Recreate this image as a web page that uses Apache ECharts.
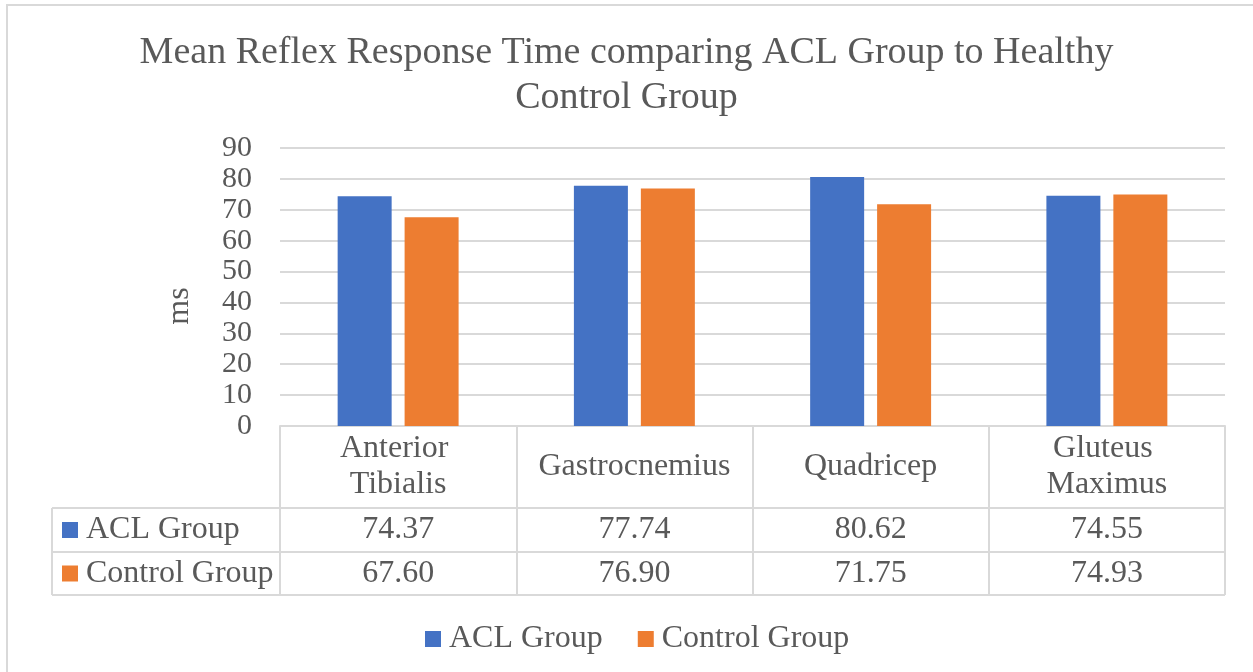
<!DOCTYPE html>
<html>
<head>
<meta charset="utf-8">
<title>Mean Reflex Response Time</title>
<script src="https://cdn.jsdelivr.net/npm/echarts@6/dist/echarts.min.js"></script>
<style>
  html, body { margin: 0; padding: 0; background: #fff; }
  #chart { width: 1253px; height: 672px; }
</style>
</head>
<body>
<div id="chart"></div>
<script>
  // data
  var muscles = ['Anterior Tibialis', 'Gastrocnemius', 'Quadricep', 'Gluteus Maximus'];
  var aclGroup = [74.37, 77.74, 80.62, 74.55];
  var controlGroup = [67.60, 76.90, 71.75, 74.93];
  var seriesNames = ['ACL Group', 'Control Group'];
  var colors = ['#4472C4', '#ED7D31'];

  var font = 'Liberation Serif, Times New Roman, serif';
  var txt = '#595959';
  var lineCol = '#d9d9d9';
  var fs = 32;

  var chart = echarts.init(document.getElementById('chart'));

  var option = {
    animation: false,
    title: {
      text: 'Mean Reflex Response Time comparing ACL Group to Healthy\nControl Group',
      left: 'center',
      top: 31,
      padding: 0,
      textStyle: { fontFamily: font, fontSize: 38, fontWeight: 'normal', color: txt, lineHeight: 45 }
    },
    legend: {
      bottom: 17,
      left: 425,
      padding: 0,
      icon: 'rect',
      itemWidth: 16,
      itemHeight: 16,
      itemGap: 35,
      textStyle: { fontFamily: font, fontSize: fs, color: txt, padding: [0, 0, 0, 3] },
      data: seriesNames
    },
    grid: { left: 280, right: 28, top: 148, bottom: 246 },
    xAxis: {
      type: 'category',
      data: muscles,
      axisLine: { lineStyle: { color: lineCol, width: 2 } },
      axisTick: { show: true, length: 169, lineStyle: { color: lineCol, width: 2 } },
      axisLabel: {
        interval: 0,
        margin: 41,
        verticalAlign: 'middle',
        width: 196,
        overflow: 'break',
        fontFamily: font, fontSize: fs, color: txt, lineHeight: 36
      }
    },
    yAxis: {
      type: 'value',
      min: 0, max: 90, interval: 10,
      name: 'ms',
      nameLocation: 'middle',
      nameGap: 84,
      nameTextStyle: { fontFamily: font, fontSize: fs, color: txt, padding: [0, 38, 0, 0] },
      axisLine: { show: false },
      axisTick: { show: false },
      axisLabel: { margin: 28, fontFamily: font, fontSize: 30, color: txt },
      splitLine: { lineStyle: { color: lineCol, width: 2 } }
    },
    series: [
      { name: seriesNames[0], type: 'bar', data: aclGroup, barWidth: 54, barGap: '24%', itemStyle: { color: colors[0] } },
      { name: seriesNames[1], type: 'bar', data: controlGroup, barWidth: 54, itemStyle: { color: colors[1] } }
    ]
  };
  chart.setOption(option);

  // data table under the axis
  var tableLeft = 52, tableRight = 1225;
  var rowTops = [508, 552, 595];
  var els = [];
  // outer frame
  els.push({ type: 'rect', shape: { x: 7, y: 5, width: 1270, height: 690 }, style: { fill: null, stroke: lineCol, lineWidth: 2 }, silent: true });
  rowTops.forEach(function (y) {
    els.push({ type: 'line', shape: { x1: tableLeft, y1: y, x2: tableRight, y2: y }, style: { stroke: lineCol, lineWidth: 2 } });
  });
  els.push({ type: 'line', shape: { x1: tableLeft, y1: rowTops[0], x2: tableLeft, y2: rowTops[2] }, style: { stroke: lineCol, lineWidth: 2 } });
  [aclGroup, controlGroup].forEach(function (vals, r) {
    var cy = (rowTops[r] + rowTops[r + 1]) / 2;
    els.push({ type: 'rect', shape: { x: 62, y: cy - 8, width: 16, height: 16 }, style: { fill: colors[r] } });
    els.push({ type: 'text', x: 86, y: cy, style: { text: seriesNames[r], fontFamily: font, fontSize: fs, fill: txt, verticalAlign: 'middle' } });
    vals.forEach(function (v, i) {
      var cx = chart.convertToPixel({ xAxisIndex: 0 }, i);
      els.push({ type: 'text', x: cx, y: cy, style: { text: v.toFixed(2), fontFamily: font, fontSize: fs, fill: txt, align: 'center', verticalAlign: 'middle' } });
    });
  });
  chart.setOption({ graphic: els });
</script>
</body>
</html>
